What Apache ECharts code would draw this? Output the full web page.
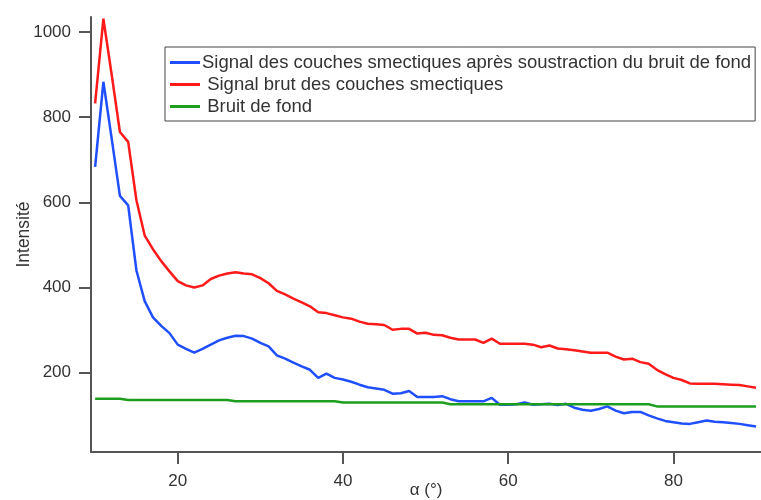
<!DOCTYPE html>
<html>
<head>
<meta charset="utf-8">
<script src="https://cdn.jsdelivr.net/npm/echarts@6/dist/echarts.min.js"></script>
<style>
  html, body { margin: 0; padding: 0; background: #fff; }
  #chart { width: 761px; height: 500px; }
</style>
</head>
<body>
<div id="chart"></div>
<script>
// angle alpha (deg)
var alpha = [10, 11, 12, 13, 14, 15, 16, 17, 18, 19,
    20, 21, 22, 23, 24, 25, 26, 27, 28, 29,
    30, 31, 32, 33, 34, 35, 36, 37, 38, 39,
    40, 41, 42, 43, 44, 45, 46, 47, 48, 49,
    50, 51, 52, 53, 54, 55, 56, 57, 58, 59,
    60, 61, 62, 63, 64, 65, 66, 67, 68, 69,
    70, 71, 72, 73, 74, 75, 76, 77, 78, 79,
    80, 81, 82, 83, 84, 85, 86, 87, 88, 89, 90];

// signal apres soustraction du bruit de fond
var signalNet = [683, 883, 750, 615, 593, 440, 368, 330, 310, 293,
    266, 256, 247, 256, 266, 276, 282, 287, 286, 280,
    270, 262, 241, 233, 224, 215, 207, 188, 198, 188,
    184, 179, 172, 166, 163, 160, 151, 152, 157, 143,
    143, 143, 145, 138, 133, 133, 133, 133, 141, 125,
    125, 126, 130, 125, 126, 127, 124, 127, 118, 113,
    111, 115, 121, 111, 105, 108, 108, 100, 93, 87,
    84, 81, 80, 84, 88, 85, 84, 82, 80, 77, 74];

// signal brut
var signalBrut = [832, 1031, 900, 765, 742, 605, 522, 490, 462, 438,
    415, 405, 400, 405, 420, 428, 433, 436, 433, 431,
    422, 410, 392, 384, 374, 365, 356, 342, 340, 335,
    330, 327, 320, 315, 314, 312, 301, 303, 303, 292,
    294, 289, 288, 282, 278, 278, 278, 270, 280, 268,
    268, 268, 268, 266, 260, 264, 257, 255, 253, 250,
    247, 247, 247, 238, 231, 233, 225, 221, 207, 197,
    188, 183, 175, 174, 174, 174, 173, 172, 171, 168, 165];

// bruit de fond
var bruit = [139, 139, 139, 139, 136, 136, 136, 136, 136, 136,
    136, 136, 136, 136, 136, 136, 136, 133, 133, 133,
    133, 133, 133, 133, 133, 133, 133, 133, 133, 133,
    130, 130, 130, 130, 130, 130, 130, 130, 130, 130,
    130, 130, 130, 126, 126, 126, 126, 126, 126, 126,
    126, 126, 126, 126, 126, 126, 126, 126, 126, 126,
    126, 126, 126, 126, 126, 126, 126, 126, 121, 121,
    121, 121, 121, 121, 121, 121, 121, 121, 121, 121, 121];

var xTicks = [20, 40, 60, 80];
var yTicks = [200, 400, 600, 800, 1000];

var names = [
    'Signal des couches smectiques après soustraction du bruit de fond',
    ' Signal brut des couches smectiques',
    ' Bruit de fond'
];

function pairs(ys) {
    var out = [];
    for (var i = 0; i < alpha.length; i++) {
        out.push([alpha[i], ys[i]]);
    }
    return out;
}

function lineSeries(name, ys, color) {
    return {
        name: name,
        type: 'line',
        showSymbol: false,
        symbol: 'none',
        animation: false,
        lineStyle: { color: color, width: 2.5 },
        itemStyle: { color: color },
        data: pairs(ys)
    };
}

var axisColor = '#555';
var textColor = '#333';
var font = 'Liberation Sans, Arial, sans-serif';

var option = {
    animation: false,
    backgroundColor: '#fff',
    textStyle: { fontFamily: font },
    grid: {
        left: 91,
        right: 0,
        top: 17,
        bottom: 48,
        outerBoundsMode: 'none'
    },
    legend: {
        orient: 'vertical',
        left: 165,
        top: 47,
        icon: 'rect',
        itemWidth: 30,
        itemHeight: 3,
        itemGap: 3,
        padding: [6, 4, 5, 5],
        borderColor: '#444',
        borderWidth: 1,
        textStyle: { fontSize: 18.5, color: textColor, fontFamily: font, padding: [0, 0, 0, -3] },
        data: names
    },
    xAxis: {
        type: 'value',
        min: 9.5,
        max: 90.6,
        name: 'α (°)',
        nameLocation: 'middle',
        nameGap: 30,
        nameMoveOverlap: false,
        nameTextStyle: { fontSize: 17, color: textColor },
        axisLine: { show: true, onZero: false, lineStyle: { color: axisColor, width: 2 } },
        axisTick: { show: true, length: 12, lineStyle: { color: axisColor, width: 2 }, customValues: xTicks },
        axisLabel: { fontSize: 17, color: textColor, margin: 21, customValues: xTicks },
        splitLine: { show: false }
    },
    yAxis: {
        type: 'value',
        min: 14,
        max: 1035,
        name: 'Intensité',
        nameLocation: 'middle',
        nameGap: 58,
        nameMoveOverlap: false,
        nameTextStyle: { fontSize: 17.5, color: textColor },
        axisLine: { show: true, lineStyle: { color: axisColor, width: 2 } },
        axisTick: { show: true, length: 12, lineStyle: { color: axisColor, width: 2 }, customValues: yTicks },
        axisLabel: {
            fontSize: 17, color: textColor, margin: 20, customValues: yTicks,
            formatter: function (v) { return String(v); }
        },
        splitLine: { show: false }
    },
    series: [
        lineSeries(names[0], signalNet, '#1f4fff'),
        lineSeries(names[1], signalBrut, '#ff1a1a'),
        lineSeries(names[2], bruit, '#1e9e1e')
    ]
};

var chart = echarts.init(document.getElementById('chart'));
chart.setOption(option);
</script>
</body>
</html>
